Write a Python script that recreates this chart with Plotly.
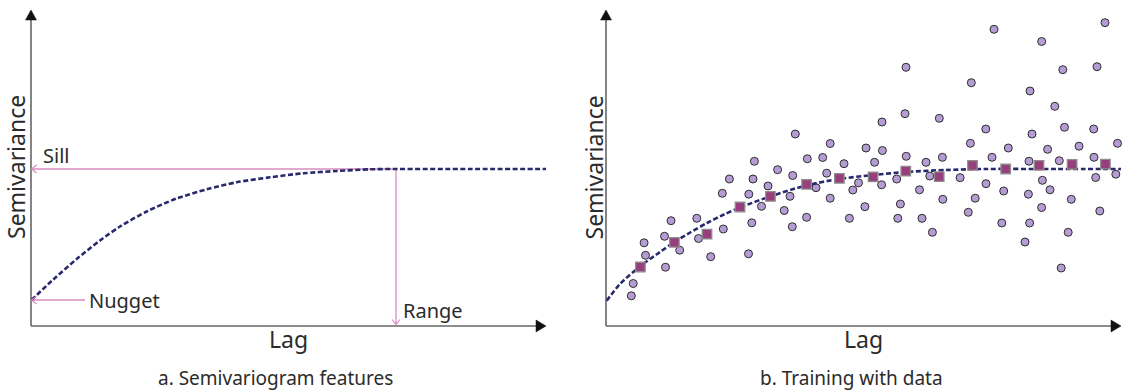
import plotly.graph_objects as go

# ---------------- data (chart units) ----------------
NUGGET = 26
SILL = 157
RANGE = 365
LAG_MAX = 515
SV_MAX = 316

# theoretical model curve, panel a
model_lag_a = [0.5, 22.3, 45.7, 69, 89, 115.7, 145.7, 175.7, 205.7, 239, 272.3, 305.7, 339, 365.7, 440, 515]
model_sv_a = [26, 46.5, 67, 85.5, 99.5, 114.5, 127.5, 136.7, 143.7, 148.7, 152.7, 155, 156.7, 157, 157, 157]

# fitted model curve, panel b
model_lag_b = [0.7, 14, 34, 54, 68.5, 85, 101, 118, 134, 164, 200, 233, 267, 300, 340, 380, 450, 515]
model_sv_b = [25.3, 42, 59.5, 74, 84, 94, 103, 111.5, 118.5, 129.5, 140.5, 147, 151, 154, 156, 157, 157, 157]

# pairwise semivariances (cloud), panel b
pair_lag = [388, 435.7, 499, 300, 456.8, 491, 365.3, 424, 448.8, 299,
            276, 333.3, 379.8, 458.5, 487.7, 426, 189.3, 224.2, 260, 276.4,
            364.4, 402.3, 441.6, 473, 511.5, 201.3, 216.7, 300.2, 336.4, 386,
            488, 148.4, 238, 268.6, 320, 423, 453.3, 171.6, 186.7, 220.7,
            123.4, 147, 323.8, 354.1, 436.4, 509.8, 489.7, 290.7, 162, 210,
            252.5, 275.6, 380, 246.8, 313.5, 397.7, 444, 116.3, 142.8, 184,
            422.4, 224.2, 336.8, 369.2, 465.3, 155.5, 178.2, 258.9, 294.4, 435.6,
            362.3, 493.8, 200.6, 243.4, 291.8, 316, 145.8, 395.8, 423.6, 186.3,
            326.4, 462.2, 65, 90.8, 117.3, 58.5, 92.5, 38.1, 73.7, 39.5,
            104.7, 142.5, 419, 59.5, 455.2, 27.2, 25.3]
pair_sv = [296.7, 284.5, 303.3, 258.7, 256.3, 259.3, 243.3, 235, 219.7, 212.3,
           204, 207.7, 197, 198.7, 197, 192, 192, 182.5, 178, 175.5,
           182.7, 178, 176.7, 179.8, 182.7, 167.2, 168.5, 169.7, 168.7, 168.7,
           168.7, 164.7, 162.3, 163.7, 163.7, 164.8, 165.3, 156.3, 150.5, 152.8,
           147, 147, 150, 148.3, 145.7, 151.8, 148.5, 147, 140, 138.3,
           143.2, 141.2, 142.3, 136, 136.2, 135, 136.2, 132.7, 131.8, 129.7,
           131.8, 127.8, 126.7, 127.8, 126.7, 119.7, 115.5, 119.3, 122, 118.5,
           113.7, 115, 108.7, 107.7, 107.7, 107.7, 103.2, 103, 103, 99.3,
           93.7, 93.7, 105.3, 107.7, 97, 89.7, 87.5, 83.2, 75.8, 70.7,
           69.3, 72.2, 84, 58.8, 58, 42.5, 30.2]

# binned (empirical) semivariogram, panel b
bin_lag = [34.4, 68.4, 101, 134, 164.4, 200.6, 233.4, 267.1, 299.8, 333.2, 366.5, 399.7, 433, 466.1, 499.4]
bin_sv = [59, 83.7, 91.8, 119, 129.6, 141.7, 147.7, 149.1, 154.8, 149.3, 160.7, 157, 160.7, 161.7, 161.8]

# ---------------- styles ----------------
FONT = "Noto Sans"
TEXT = "#2b2b2b"
NAVY = "#29296d"
PINK = "#d98cbe"
AXIS = "#666666"
HEAD = "#111111"
DOT_FILL = "#b69cd4"
SQ_FILL = "#973f7c"

fig = go.Figure()

curve_style = dict(color=NAVY, width=2.6, dash="5px,2.5px", shape="spline", smoothing=0.8)

fig.add_trace(go.Scatter(x=model_lag_a, y=model_sv_a, mode="lines", line=curve_style,
                         xaxis="x", yaxis="y", hoverinfo="skip"))

fig.add_trace(go.Scatter(x=pair_lag, y=pair_sv, mode="markers",
                         marker=dict(symbol="circle", size=8, color=DOT_FILL,
                                     line=dict(color="#2e2e2e", width=1)),
                         xaxis="x2", yaxis="y2", hoverinfo="skip"))
fig.add_trace(go.Scatter(x=model_lag_b, y=model_sv_b, mode="lines", line=curve_style,
                         xaxis="x2", yaxis="y2", hoverinfo="skip"))
fig.add_trace(go.Scatter(x=bin_lag, y=bin_sv, mode="markers",
                         marker=dict(symbol="square", size=9.5, color=SQ_FILL,
                                     line=dict(color="#8e8e8e", width=1.3)),
                         xaxis="x2", yaxis="y2", hoverinfo="skip"))

shapes = []


def line(xr, yr, x0, y0, x1, y1, color, width, layer="below"):
    shapes.append(dict(type="line", xref=xr, yref=yr, x0=x0, y0=y0, x1=x1, y1=y1,
                       line=dict(color=color, width=width), layer=layer))


def head(xr, yr, tx, ty, ux, uy, length, half, color, filled):
    px, py = -uy, ux
    a1 = (tx - ux * length + px * half, ty - uy * length + py * half)
    a2 = (tx - ux * length - px * half, ty - uy * length - py * half)
    path = f"M {a1[0]},{a1[1]} L {tx},{ty} L {a2[0]},{a2[1]}"
    if filled:
        shapes.append(dict(type="path", xref=xr, yref=yr, path=path + " Z",
                           fillcolor=color, line=dict(color=color, width=0.5), layer="above"))
    else:
        shapes.append(dict(type="path", xref=xr, yref=yr, path=path,
                           line=dict(color=color, width=1.2), layer="above"))


for xr, yr in (("x", "y"), ("x2", "y2")):
    line(xr, yr, 0, 0, 0, SV_MAX - 8, AXIS, 1.6)
    line(xr, yr, 0, 0, LAG_MAX - 8, 0, AXIS, 1.6)
    head(xr, yr, 0, SV_MAX, 0, 1, 10, 5.5, HEAD, True)
    head(xr, yr, LAG_MAX, 0, 1, 0, 10, 6, HEAD, True)

# feature arrows (panel a)
line("x", "y", RANGE, SILL, 0.6, SILL, PINK, 1.3)
head("x", "y", 0.6, SILL, -1, 0, 5, 4, PINK, False)
line("x", "y", 54, NUGGET, 0.6, NUGGET, PINK, 1.3)
head("x", "y", 0.6, NUGGET, -1, 0, 5, 4, PINK, False)
line("x", "y", RANGE, SILL, RANGE, 1.5, PINK, 1.3)
head("x", "y", RANGE, 1.5, 0, -1, 5, 4, PINK, False)

annotations = []


def label(xr, yr, x, y, text, size, angle=0):
    annotations.append(dict(xref=xr, yref=yr, x=x, y=y, text=text, showarrow=False,
                            xanchor="center", yanchor="middle", textangle=angle,
                            borderpad=0, borderwidth=0,
                            font=dict(family=FONT, size=size, color=TEXT)))


label("x", "y", 25.3, 170.5, "Sill", 20)
label("x", "y", 93, NUGGET, "Nugget", 20)
label("x", "y", 402.2, 15.7, "Range", 20)
label("x", "y", 257.3, -13.3, "Lag", 23)
label("x", "y", -15.5, 158.5, "Semivariance", 23, -90)
label("x", "y", 244.5, -51.5, "a. Semivariogram features", 19)

label("x2", "y2", 257.8, -13.3, "Lag", 23)
label("x2", "y2", -13, 158.5, "Semivariance", 23, -90)
label("x2", "y2", 245.3, -51.5, "b. Training with data", 19)

fig.update_layout(
    width=1124, height=391,
    margin=dict(l=0, r=0, t=0, b=0),
    paper_bgcolor="white", plot_bgcolor="white",
    showlegend=False,
    xaxis=dict(domain=[0, 0.5], range=[-31, 531], visible=False, anchor="y"),
    yaxis=dict(domain=[0, 1], range=[-65, 326], visible=False, anchor="x"),
    xaxis2=dict(domain=[0.5, 1], range=[-44, 518], visible=False, anchor="y2"),
    yaxis2=dict(domain=[0, 1], range=[-65, 326], visible=False, anchor="x2"),
    shapes=shapes,
    annotations=annotations,
)

fig.write_html("out.html", config={"displayModeBar": False})
